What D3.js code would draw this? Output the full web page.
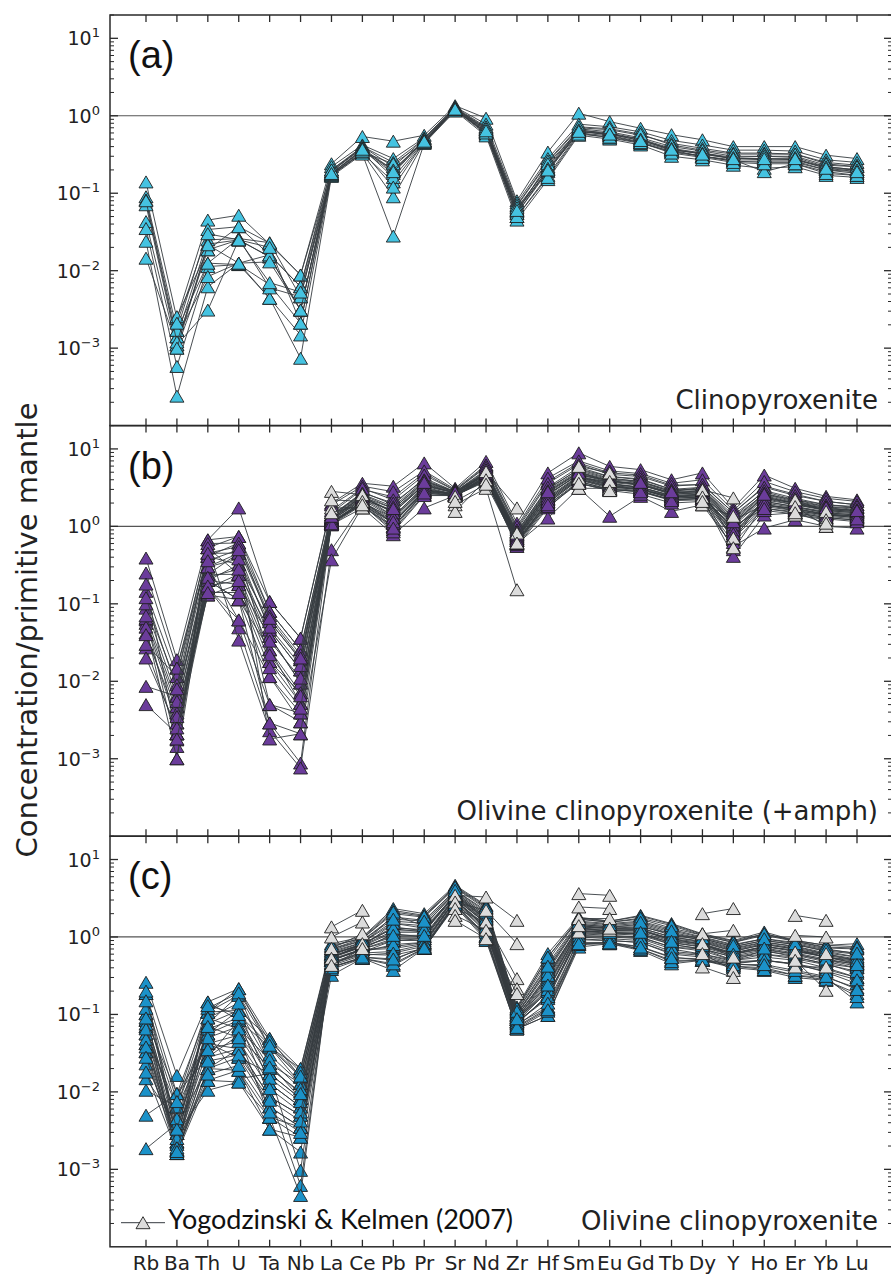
<!DOCTYPE html>
<html>
<head>
<meta charset="utf-8">
<script src="https://cdn.jsdelivr.net/npm/d3@7"></script>
<style>
  body { margin: 0; background: #fff; }
  svg { display: block; }
</style>
</head>
<body>
<div id="chart"></div>
<script>
// trace elements, normalised to primitive mantle
const elements = ["Rb", "Ba", "Th", "U", "Ta", "Nb", "La", "Ce", "Pb", "Pr", "Sr", "Nd",
    "Zr", "Hf", "Sm", "Eu", "Gd", "Tb", "Dy", "Y", "Ho", "Er", "Yb", "Lu"];

// (a) clinopyroxenite
const cpxSamples = [
    [0.14, 0.0024, 0.045, 0.052, 0.022, 0.0088, 0.24, 0.54, 0.47, 0.56, 1.35, 0.93, 0.08, 0.34, 1.08, 0.84, 0.69, 0.57, 0.49, 0.40, 0.40, 0.40, 0.31, 0.28],
    [0.09, 0.0017, 0.034, 0.037, 0.016, 0.0062, 0.22, 0.42, 0.28, 0.52, 1.3, 0.78, 0.075, 0.28, 0.78, 0.72, 0.62, 0.48, 0.42, 0.36, 0.36, 0.35, 0.27, 0.25],
    [0.082, 0.0014, 0.025, 0.026, 0.023, 0.0046, 0.19, 0.40, 0.22, 0.50, 1.25, 0.70, 0.068, 0.25, 0.70, 0.66, 0.56, 0.44, 0.38, 0.33, 0.33, 0.32, 0.25, 0.23],
    [0.071, 0.0011, 0.022, 0.025, 0.015, 0.0031, 0.18, 0.36, 0.18, 0.48, 1.22, 0.66, 0.062, 0.22, 0.68, 0.62, 0.52, 0.40, 0.35, 0.30, 0.30, 0.30, 0.23, 0.22],
    [0.043, 0.001, 0.0125, 0.012, 0.0066, 0.0021, 0.175, 0.33, 0.14, 0.46, 1.2, 0.60, 0.055, 0.19, 0.62, 0.58, 0.48, 0.37, 0.32, 0.28, 0.28, 0.27, 0.22, 0.20],
    [0.035, 0.00058, 0.0113, 0.012, 0.0044, 0.00148, 0.17, 0.33, 0.09, 0.45, 1.18, 0.58, 0.05, 0.17, 0.60, 0.55, 0.45, 0.34, 0.30, 0.26, 0.25, 0.25, 0.20, 0.19],
    [0.024, 0.00024, 0.0062, 0.0125, 0.0044, 0.00074, 0.165, 0.32, 0.028, 0.44, 1.15, 0.55, 0.045, 0.15, 0.56, 0.50, 0.42, 0.30, 0.27, 0.23, 0.21, 0.22, 0.17, 0.16],
    [0.0145, 0.0011, 0.0031, 0.025, 0.0152, 0.0031, 0.18, 0.36, 0.20, 0.47, 1.25, 0.66, 0.06, 0.2, 0.65, 0.6, 0.5, 0.36, 0.33, 0.28, 0.27, 0.27, 0.21, 0.2],
    [null, 0.00255, 0.0186, 0.037, 0.0227, 0.0088, 0.2, 0.40, 0.25, 0.5, 1.28, 0.72, 0.07, 0.26, 0.72, 0.68, 0.58, 0.42, 0.36, 0.32, 0.32, 0.32, 0.24, 0.22],
    [null, 0.0014, 0.0084, 0.0125, 0.016, 0.0062, 0.19, 0.38, 0.16, 0.47, 1.2, 0.62, 0.058, 0.24, 0.64, 0.56, 0.46, 0.36, 0.3, 0.27, 0.19, 0.24, 0.19, 0.17],
    [null, 0.0017, 0.0125, 0.026, 0.006, 0.0046, 0.17, 0.34, 0.24, 0.45, 1.2, 0.62, 0.055, 0.2, 0.6, 0.52, 0.44, 0.35, 0.3, 0.26, 0.26, 0.26, 0.2, 0.18],
    [0.08, 0.0012, 0.0186, 0.025, 0.02, 0.0021, 0.2, 0.38, 0.2, 0.48, 1.25, 0.68, 0.065, 0.21, 0.66, 0.58, 0.5, 0.38, 0.33, 0.29, 0.3, 0.29, 0.22, 0.2],
    [null, 0.001, 0.0216, 0.0125, 0.013, 0.0031, 0.175, 0.35, 0.12, 0.46, 1.2, 0.6, 0.05, 0.16, 0.58, 0.53, 0.45, 0.33, 0.29, 0.25, 0.24, 0.24, 0.18, 0.17],
    [null, 0.0021, 0.03, 0.025, 0.007, 0.0053, 0.18, 0.37, 0.19, 0.47, 1.22, 0.64, 0.06, 0.2, 0.63, 0.58, 0.48, 0.37, 0.32, 0.28, 0.28, 0.28, 0.21, 0.19]
];

// (b) olivine clinopyroxenite (+amph)
const olCpxAmphSamples = [
    [0.39, 0.019, 0.67, 1.73, 0.107, 0.036, 1.99, 3.6, 3.3, 6.6, 3.1, 6.9, 1.1, 4.9, 8.9, 5.95, 5.4, 4.0, 4.9, 1.73, 4.6, 3.1, 2.44, 2.2],
    [0.25, 0.0148, 0.53, 0.74, 0.08, 0.0255, 1.5, 3.0, 2.4, 4.9, 2.9, 6.0, 0.95, 3.8, 6.6, 4.9, 4.6, 3.4, 3.45, 1.5, 3.3, 2.6, 2.1, 1.9],
    [0.145, 0.0115, 0.41, 0.61, 0.059, 0.019, 1.3, 2.8, 1.9, 4.2, 2.8, 5.2, 0.82, 3.0, 5.5, 4.4, 4.0, 3.0, 3.0, 1.28, 2.6, 2.2, 1.8, 1.73],
    [0.088, 0.0064, 0.24, 0.45, 0.046, 0.014, 1.22, 2.5, 1.35, 3.3, 2.7, 4.6, 0.7, 2.6, 4.6, 3.9, 3.4, 2.7, 2.83, 0.67, 2.3, 2.0, 1.6, 1.5],
    [0.062, 0.0047, 0.2, 0.32, 0.038, 0.0095, 1.1, 2.1, 1.1, 2.8, 2.6, 4.2, 0.6, 2.2, 4.2, 3.4, 3.0, 2.4, 2.5, 0.5, 1.9, 1.7, 1.4, 1.35],
    [0.056, 0.0039, 0.16, 0.24, 0.0255, 0.0071, 1.15, 1.9, 0.9, 2.57, 2.5, 4.0, 0.55, 1.73, 3.8, 3.0, 2.83, 2.2, 2.3, 0.41, 1.4, 1.5, 1.3, 1.2],
    [0.042, 0.0029, 0.13, 0.177, 0.018, 0.0052, 1.05, 1.73, 0.78, 1.73, 2.5, 3.8, 0.6, 1.28, 3.1, 1.35, 2.44, 1.56, 1.9, 0.55, 0.95, 1.22, 1.0, 0.95],
    [0.027, 0.0021, 0.2, 0.113, 0.0115, 0.0039, 1.2, 2.2, 1.6, 3.6, 2.7, 4.8, 0.75, 2.8, 5.0, 3.8, 3.6, 2.7, 2.9, 1.1, 2.4, 2.0, 1.7, 1.6],
    [0.0086, 0.0064, 0.3, 0.062, 0.005, 0.003, 1.25, 2.4, 1.7, 3.8, 2.8, 5.0, 0.85, 3.1, 5.4, 4.2, 3.8, 2.8, 3.2, 1.4, 2.8, 2.2, 1.9, 1.75],
    [0.005, 0.0021, 0.16, 0.049, 0.0029, 0.00088, 1.1, 2.0, 1.3, 3.0, 2.6, 4.4, 0.7, 2.3, 4.4, 3.5, 3.2, 2.5, 2.6, 0.8, 2.1, 1.8, 1.5, 1.4],
    [0.18, 0.00175, 0.53, 0.034, 0.0023, 0.00076, 0.5, 1.9, 1.1, 2.9, 2.6, 4.2, 0.65, 2.0, 4.0, 3.2, 3.0, 2.4, 2.4, 1.2, 1.9, 1.6, 1.4, 1.3],
    [0.065, 0.00144, 0.45, 0.45, 0.0018, 0.0021, 0.37, 1.8, 1.0, 2.7, 2.5, 4.0, 0.62, 1.9, 3.6, 3.0, 2.8, 2.2, 2.3, 1.0, 1.7, 1.5, 1.3, 1.2],
    [0.05, 0.001, 0.67, 0.74, 0.107, 0.036, 1.9, 3.3, 2.8, 5.2, 3.0, 6.2, 1.0, 4.2, 7.0, 5.2, 4.8, 3.6, 4.0, 1.6, 3.8, 2.8, 2.3, 2.1],
    [0.03, 0.0115, 0.6, 0.61, 0.08, 0.0255, 1.6, 3.1, 2.2, 4.6, 2.9, 5.8, 0.9, 3.6, 6.3, 4.7, 4.4, 3.3, 3.5, 1.5, 3.2, 2.5, 2.1, 1.9],
    [null, 0.0148, 0.41, 0.32, 0.059, 0.019, 1.4, 2.7, 2.0, 4.0, 2.8, 5.4, 0.85, 3.2, 5.8, 4.4, 4.1, 3.0, 3.2, 1.3, 2.9, 2.3, 1.9, 1.8],
    [null, 0.0047, 0.24, 0.24, 0.046, 0.014, 1.3, 2.5, 1.5, 3.5, 2.7, 4.8, 0.78, 2.7, 4.9, 3.9, 3.5, 2.7, 2.8, 1.1, 2.5, 2.0, 1.7, 1.6],
    [null, 0.0029, 0.2, 0.177, 0.038, 0.0095, 1.2, 2.3, 1.35, 3.2, 2.6, 4.5, 0.72, 2.4, 4.5, 3.6, 3.2, 2.5, 2.6, 0.9, 2.2, 1.9, 1.6, 1.5],
    [null, 0.0039, 0.13, 0.113, 0.0255, 0.0052, 1.1, 2.0, 1.0, 2.8, 2.5, 4.2, 0.62, 2.0, 4.0, 3.1, 2.9, 2.2, 2.3, 0.75, 1.8, 1.6, 1.4, 1.3],
    [null, 0.0021, 0.16, 0.062, 0.0115, 0.003, 1.05, 1.9, 0.85, 2.5, 2.5, 3.9, 0.58, 1.8, 3.6, 2.9, 2.6, 2.0, 2.1, 0.62, 1.6, 1.45, 1.25, 1.15],
    [null, 0.001, 0.3, 0.45, 0.018, 0.0071, 1.15, 2.1, 1.2, 3.0, 2.6, 4.3, 0.68, 2.2, 4.3, 3.4, 3.1, 2.4, 2.5, 0.85, 2.0, 1.75, 1.5, 1.4],
    [null, 0.0064, 0.53, 0.24, 0.005, 0.0039, 1.25, 2.3, 1.6, 3.4, 2.7, 4.6, 0.75, 2.6, 4.7, 3.7, 3.4, 2.6, 2.7, 1.0, 2.3, 1.9, 1.65, 1.55],
    [null, 0.0021, 0.2, 0.113, 0.0029, 0.0021, 1.1, 2.0, 1.1, 2.9, 2.6, 4.1, 0.65, 2.1, 4.1, 3.3, 3.0, 2.3, 2.4, 0.95, 1.9, 1.7, 1.45, 1.35],
    [0.1, 0.009, 0.45, 0.55, 0.07, 0.022, 1.4, 2.6, 1.8, 3.9, 2.75, 5.0, 0.8, 2.9, 5.2, 4.1, 3.8, 2.9, 3.0, 1.2, 2.7, 2.1, 1.8, 1.65],
    [0.07, 0.0055, 0.3, 0.38, 0.05, 0.016, 1.3, 2.4, 1.5, 3.4, 2.7, 4.7, 0.74, 2.5, 4.8, 3.8, 3.5, 2.6, 2.75, 1.05, 2.4, 1.95, 1.65, 1.55],
    [0.04, 0.0035, 0.22, 0.28, 0.033, 0.011, 1.2, 2.2, 1.3, 3.1, 2.6, 4.4, 0.7, 2.3, 4.4, 3.5, 3.2, 2.45, 2.55, 0.9, 2.1, 1.8, 1.55, 1.45],
    [0.02, 0.0025, 0.17, 0.2, 0.022, 0.0065, 1.15, 2.05, 1.15, 2.9, 2.55, 4.2, 0.66, 2.1, 4.1, 3.25, 3.0, 2.3, 2.4, 0.8, 1.9, 1.65, 1.45, 1.35],
    [null, 0.0018, 0.14, 0.14, 0.015, 0.0045, 1.08, 1.95, 0.95, 2.7, 2.5, 4.0, 0.6, 1.9, 3.8, 3.0, 2.8, 2.15, 2.2, 0.7, 1.7, 1.55, 1.35, 1.25],
    [0.12, 0.008, 0.36, 0.5, 0.065, 0.02, 1.35, 2.55, 1.7, 3.7, 2.75, 4.9, 0.78, 2.8, 5.0, 4.0, 3.7, 2.8, 2.9, 1.15, 2.6, 2.05, 1.75, 1.6]
];
const ykSamplesB = [
    [null, null, null, null, null, null, 2.83, 2.57, null, null, 2.44, 5.1, 1.73, null, 5.95, 4.9, null, null, 2.97, 2.33, null, 2.2, 1.56, null],
    [null, null, null, null, null, null, 1.73, 1.73, null, null, 1.9, 3.1, 0.152, null, 3.1, 3.1, null, null, 1.9, 1.35, null, 1.4, 1.22, null],
    [null, null, null, null, null, null, 2.2, 2.1, null, null, 1.56, 4.0, 0.82, null, 4.2, 3.8, null, null, 2.4, 0.71, null, 1.8, 1.0, null],
    [null, null, null, null, null, null, 1.5, 1.9, null, null, 2.1, 3.5, 0.61, null, 3.6, 2.9, null, null, 2.1, 0.53, null, 1.5, 1.1, null]
];

// (c) olivine clinopyroxenite
const olCpxSamples = [
    [0.26, 0.0163, 0.145, 0.215, 0.049, 0.02, 0.82, 1.0, 2.33, 2.0, 4.65, 2.57, 0.125, 0.61, 1.8, 1.6, 1.9, 1.49, 1.1, 0.9, 1.16, 0.9, 0.78, 0.82],
    [0.186, 0.0095, 0.107, 0.177, 0.038, 0.0155, 0.67, 0.9, 1.81, 1.64, 4.0, 2.2, 0.11, 0.45, 1.6, 1.49, 1.6, 1.25, 1.0, 0.8, 0.95, 0.85, 0.7, 0.61],
    [0.102, 0.0064, 0.076, 0.113, 0.023, 0.0128, 0.6, 0.82, 1.28, 1.16, 3.6, 1.81, 0.097, 0.30, 1.4, 1.3, 1.35, 1.1, 0.9, 0.7, 0.85, 0.75, 0.6, 0.5],
    [0.084, 0.0039, 0.056, 0.084, 0.0172, 0.0082, 0.55, 0.75, 1.0, 1.0, 3.3, 1.6, 0.085, 0.226, 1.25, 1.2, 1.2, 0.95, 0.8, 0.6, 0.75, 0.68, 0.55, 0.45],
    [0.069, 0.0029, 0.042, 0.054, 0.0128, 0.0064, 0.5, 0.68, 0.71, 0.82, 3.0, 1.4, 0.08, 0.168, 1.1, 1.05, 1.0, 0.74, 0.7, 0.5, 0.67, 0.55, 0.45, 0.34],
    [0.056, 0.00225, 0.028, 0.036, 0.0086, 0.005, 0.45, 0.6, 0.58, 0.71, 2.8, 1.2, 0.075, 0.125, 0.95, 0.9, 0.85, 0.6, 0.55, 0.45, 0.5, 0.45, 0.35, 0.25],
    [0.042, 0.00175, 0.02, 0.028, 0.0064, 0.0035, 0.41, 0.53, 0.43, 0.71, 2.6, 1.0, 0.065, 0.097, 0.74, 0.82, 0.67, 0.45, 0.5, 0.4, 0.37, 0.3, 0.275, 0.186],
    [0.033, 0.0016, 0.0141, 0.019, 0.0047, 0.0026, 0.32, 0.53, 0.37, 0.71, 2.5, 0.9, 0.065, 0.097, 0.8, 0.85, 0.7, 0.5, 0.5, 0.42, 0.4, 0.32, 0.3, 0.145],
    [0.023, 0.0029, 0.0105, 0.0134, 0.0033, 0.00167, 0.45, 0.64, 0.9, 0.9, 3.0, 1.3, 0.08, 0.2, 1.1, 1.1, 1.05, 0.8, 0.7, 0.55, 0.6, 0.55, 0.45, 0.4],
    [0.0148, 0.0039, 0.056, 0.0148, 0.0172, 0.00097, 0.5, 0.7, 1.1, 1.0, 3.2, 1.5, 0.085, 0.25, 1.2, 1.15, 1.1, 0.85, 0.75, 0.6, 0.7, 0.6, 0.5, 0.45],
    [0.0105, 0.0064, 0.042, 0.036, 0.0086, 0.00062, 0.55, 0.75, 1.5, 1.3, 3.5, 1.7, 0.09, 0.3, 1.3, 1.25, 1.25, 0.95, 0.85, 0.65, 0.8, 0.7, 0.55, 0.5],
    [0.005, 0.0095, 0.028, 0.054, 0.0047, 0.00046, 0.6, 0.8, 1.9, 1.4, 3.8, 1.9, 0.1, 0.4, 1.45, 1.35, 1.45, 1.1, 0.95, 0.75, 0.9, 0.8, 0.65, 0.55],
    [0.00185, 0.0039, 0.02, 0.019, 0.0033, 0.0026, 0.5, 0.68, 0.75, 0.85, 3.0, 1.3, 0.075, 0.18, 1.0, 1.0, 0.95, 0.7, 0.6, 0.5, 0.55, 0.5, 0.4, 0.3],
    [0.186, 0.00225, 0.107, 0.113, 0.049, 0.0155, 0.7, 0.95, 2.0, 1.8, 4.3, 2.3, 0.115, 0.5, 1.7, 1.55, 1.7, 1.3, 1.05, 0.85, 1.05, 0.88, 0.72, 0.7],
    [0.102, 0.0016, 0.145, 0.084, 0.038, 0.0128, 0.65, 0.85, 1.6, 1.5, 3.9, 2.0, 0.105, 0.38, 1.5, 1.4, 1.5, 1.15, 0.95, 0.75, 0.9, 0.8, 0.66, 0.6],
    [0.069, 0.00175, 0.076, 0.177, 0.023, 0.0082, 0.55, 0.78, 1.2, 1.2, 3.4, 1.7, 0.09, 0.28, 1.3, 1.2, 1.25, 0.9, 0.8, 0.62, 0.75, 0.65, 0.55, 0.48],
    [0.042, 0.0029, 0.056, 0.113, 0.0128, 0.0064, 0.5, 0.7, 0.9, 0.95, 3.1, 1.5, 0.085, 0.2, 1.15, 1.1, 1.1, 0.8, 0.7, 0.55, 0.65, 0.58, 0.48, 0.4],
    [null, 0.0016, 0.028, 0.084, 0.0086, 0.005, 0.45, 0.62, 0.65, 0.8, 2.9, 1.25, 0.08, 0.16, 1.0, 0.95, 0.9, 0.65, 0.6, 0.48, 0.5, 0.45, 0.38, 0.3],
    [null, 0.0016, 0.02, 0.036, 0.0064, 0.0035, 0.41, 0.55, 0.5, 0.75, 2.7, 1.05, 0.07, 0.12, 0.85, 0.85, 0.75, 0.55, 0.5, 0.45, 0.42, 0.35, 0.3, 0.22],
    [0.033, 0.00225, 0.0141, 0.0134, 0.0047, 0.0035, 0.38, 0.53, 0.45, 0.72, 2.6, 0.95, 0.065, 0.11, 0.8, 0.82, 0.7, 0.48, 0.5, 0.42, 0.38, 0.32, 0.28, 0.17],
    [0.056, 0.0064, 0.107, 0.215, 0.038, 0.02, 0.75, 0.98, 2.2, 1.9, 4.5, 2.5, 0.12, 0.55, 1.75, 1.6, 1.85, 1.45, 1.08, 0.88, 1.1, 0.9, 0.78, 0.75],
    [0.084, 0.0095, 0.042, 0.028, 0.0172, 0.0082, 0.6, 0.8, 1.35, 1.2, 3.6, 1.8, 0.095, 0.33, 1.35, 1.3, 1.3, 1.0, 0.88, 0.68, 0.82, 0.72, 0.6, 0.52],
    [0.2, 0.0029, 0.12, 0.19, 0.045, 0.018, 0.78, 0.95, 2.1, 1.85, 4.4, 2.4, 0.12, 0.55, 1.7, 1.55, 1.75, 1.4, 1.05, 0.85, 1.1, 0.88, 0.74, 0.72],
    [0.12, 0.0039, 0.09, 0.14, 0.03, 0.0128, 0.62, 0.85, 1.5, 1.4, 3.7, 1.9, 0.1, 0.36, 1.45, 1.35, 1.4, 1.05, 0.92, 0.72, 0.86, 0.76, 0.62, 0.55],
    [0.075, 0.0021, 0.065, 0.09, 0.02, 0.01, 0.56, 0.76, 1.15, 1.15, 3.4, 1.65, 0.09, 0.26, 1.28, 1.2, 1.2, 0.92, 0.82, 0.62, 0.76, 0.66, 0.55, 0.46],
    [0.048, 0.0018, 0.05, 0.07, 0.015, 0.0075, 0.52, 0.7, 0.95, 0.95, 3.2, 1.5, 0.085, 0.21, 1.18, 1.12, 1.1, 0.84, 0.74, 0.57, 0.68, 0.6, 0.5, 0.42],
    [0.038, 0.0025, 0.035, 0.045, 0.011, 0.0055, 0.47, 0.64, 0.8, 0.85, 3.0, 1.35, 0.078, 0.17, 1.05, 1.02, 0.98, 0.74, 0.66, 0.5, 0.6, 0.52, 0.44, 0.36],
    [0.028, 0.0019, 0.025, 0.03, 0.0078, 0.0042, 0.43, 0.58, 0.62, 0.76, 2.8, 1.15, 0.072, 0.14, 0.92, 0.9, 0.85, 0.62, 0.58, 0.46, 0.5, 0.44, 0.36, 0.28],
    [0.018, 0.0017, 0.017, 0.022, 0.0055, 0.003, 0.4, 0.55, 0.52, 0.72, 2.65, 1.02, 0.068, 0.115, 0.82, 0.84, 0.74, 0.54, 0.52, 0.44, 0.44, 0.37, 0.31, 0.21],
    [0.065, 0.0045, 0.09, 0.065, 0.026, 0.011, 0.58, 0.8, 1.3, 1.25, 3.5, 1.75, 0.095, 0.32, 1.35, 1.28, 1.3, 1.0, 0.86, 0.66, 0.8, 0.7, 0.58, 0.5],
    [0.15, 0.0075, 0.13, 0.1, 0.04, 0.016, 0.7, 0.9, 1.7, 1.6, 4.0, 2.1, 0.11, 0.42, 1.55, 1.45, 1.55, 1.2, 0.98, 0.78, 0.95, 0.82, 0.68, 0.62],
    [0.09, 0.0033, 0.07, 0.05, 0.021, 0.0095, 0.54, 0.74, 1.05, 1.05, 3.3, 1.55, 0.088, 0.24, 1.22, 1.15, 1.15, 0.88, 0.78, 0.6, 0.72, 0.62, 0.52, 0.44]
];
const ykSamplesC = [
    [null, null, null, null, null, null, 1.35, 2.21, null, null, 3.45, 3.28, 1.64, null, 3.63, 3.45, null, null, 2.0, 2.33, null, 1.9, 1.64, null],
    [null, null, null, null, null, null, 1.0, 1.56, null, null, 2.83, 2.21, 0.82, null, 2.44, 2.33, null, null, 1.1, 1.22, null, 1.05, 1.0, null],
    [null, null, null, null, null, null, 0.71, 1.1, null, null, 2.33, 1.56, 0.29, null, 1.73, 1.73, null, null, 0.82, 0.55, null, 0.64, 0.61, null],
    [null, null, null, null, null, null, 0.53, 0.82, null, null, 1.9, 1.22, 0.215, null, 1.16, 1.22, null, null, 0.61, 0.37, null, 0.41, 0.41, null],
    [null, null, null, null, null, null, 0.43, 0.71, null, null, 1.64, 0.95, 0.186, null, 1.4, 1.3, null, null, 0.41, 0.30, null, 0.5, 0.205, null]
];

const yMajorTicks = [1e-3, 1e-2, 1e-1, 1, 10];
const yTickExp = ["\u22123", "\u22122", "\u22121", "0", "1"];
const panelLabels = ["(a)", "(b)", "(c)"];
const rockNames = ["Clinopyroxenite", "Olivine clinopyroxenite (+amph)", "Olivine clinopyroxenite"];
const legendLabel = "Yogodzinski & Kelmen (2007)";

let width = 891, height = 1276;
let plotLeft = 110, plotRight = 892, plotTop = 15, panelH = 410.6;

let svg = d3.select("#chart")
    .append("svg")
    .attr("width", width)
    .attr("height", height);

let x = d3.scalePoint()
    .domain(elements)
    .range([146, 857]);

// matplotlib-style "^" marker, centred on the point
let tri = "M0,-6L7,6L-7,6Z";

let panels = [
    { samples: cpxSamples, refs: [], fill: "#45c3e1" },
    { samples: olCpxAmphSamples, refs: ykSamplesB, fill: "#6b3c9b" },
    { samples: olCpxSamples, refs: ykSamplesC, fill: "#1b92c9" }
];

// minor ticks 2..9 of every decade
let minorTicks = [];
for (let e = -4; e <= 1; e++) {
    for (let m = 2; m <= 9; m++) {
        let v = m * Math.pow(10, e);
        if (v <= 20) minorTicks.push(v);
    }
}

panels.forEach(function (p, i) {
    let top = plotTop + i * panelH;
    let y = d3.scaleLog()
        .domain([1e-4, 20])
        .range([top + panelH, top]);

    let g = svg.append("g").attr("class", "panel");

    // reference line at 1
    g.append("line")
        .attr("x1", plotLeft).attr("x2", plotRight)
        .attr("y1", y(1)).attr("y2", y(1))
        .attr("stroke", "#555").attr("stroke-width", 1.2);

    let line = d3.line()
        .defined(function (d) { return d != null; })
        .x(function (d, j) { return x(elements[j]); })
        .y(function (d) { return y(d); });

    function drawSample(vals, fill) {
        let s = g.append("g");
        s.append("path")
            .attr("d", line(vals))
            .attr("fill", "none")
            .attr("stroke", "#363b40")
            .attr("stroke-width", 0.9);
        vals.forEach(function (v, j) {
            if (v == null) return;
            s.append("path")
                .attr("d", tri)
                .attr("transform", "translate(" + x(elements[j]) + "," + y(v) + ")")
                .attr("fill", fill)
                .attr("stroke", "#1e1e1e")
                .attr("stroke-width", 0.9);
        });
    }

    p.samples.forEach(function (s) { drawSample(s, p.fill); });
    p.refs.forEach(function (s) { drawSample(s, "#dcdcdc"); });

    // frame
    g.append("rect")
        .attr("x", plotLeft).attr("y", top)
        .attr("width", plotRight - plotLeft).attr("height", panelH)
        .attr("fill", "none").attr("stroke", "#2a2a2a").attr("stroke-width", 1.5);

    // x ticks, inward, top and bottom
    elements.forEach(function (el) {
        g.append("line")
            .attr("x1", x(el)).attr("x2", x(el))
            .attr("y1", top).attr("y2", top + 7)
            .attr("stroke", "#2a2a2a").attr("stroke-width", 1.3);
        g.append("line")
            .attr("x1", x(el)).attr("x2", x(el))
            .attr("y1", top + panelH).attr("y2", top + panelH - 7)
            .attr("stroke", "#2a2a2a").attr("stroke-width", 1.3);
    });

    // y ticks, inward, left and right
    yMajorTicks.forEach(function (v, k) {
        [[plotLeft, 8], [plotRight, -8]].forEach(function (t) {
            g.append("line")
                .attr("x1", t[0]).attr("x2", t[0] + t[1])
                .attr("y1", y(v)).attr("y2", y(v))
                .attr("stroke", "#2a2a2a").attr("stroke-width", 1.3);
        });
        let lab = g.append("text")
            .attr("x", 100)
            .attr("y", y(v) + 7)
            .attr("text-anchor", "end")
            .style("font-family", "DejaVu Sans")
            .style("font-size", "19px")
            .style("fill", "#222");
        lab.append("tspan").text("10");
        lab.append("tspan")
            .attr("dy", -8)
            .style("font-size", "13px")
            .text(yTickExp[k]);
    });
    minorTicks.forEach(function (v) {
        [[plotLeft, 4], [plotRight, -4]].forEach(function (t) {
            g.append("line")
                .attr("x1", t[0]).attr("x2", t[0] + t[1])
                .attr("y1", y(v)).attr("y2", y(v))
                .attr("stroke", "#2a2a2a").attr("stroke-width", 1);
        });
    });

    // panel letter
    g.append("text")
        .attr("x", 128)
        .attr("y", top + 53)
        .style("font-family", "Liberation Sans")
        .style("font-size", "38px")
        .style("fill", "#111")
        .text(panelLabels[i]);

    // rock type
    g.append("text")
        .attr("x", 878)
        .attr("y", top + 394)
        .attr("text-anchor", "end")
        .style("font-family", "DejaVu Sans")
        .style("font-size", "26px")
        .style("fill", "#222")
        .text(rockNames[i]);

    if (i == 2) {
        // legend for the reference data
        let ly = top + 386.5;
        g.append("line")
            .attr("x1", 121).attr("x2", 165)
            .attr("y1", ly).attr("y2", ly)
            .attr("stroke", "#363b40").attr("stroke-width", 1);
        g.append("path")
            .attr("d", tri)
            .attr("transform", "translate(143," + ly + ")")
            .attr("fill", "#dcdcdc")
            .attr("stroke", "#1e1e1e")
            .attr("stroke-width", 0.9);
        g.append("text")
            .attr("x", 168)
            .attr("y", top + 393)
            .style("font-family", "Lato")
            .style("font-size", "27px")
            .style("fill", "#111")
            .text(legendLabel);

        // element labels
        elements.forEach(function (el) {
            g.append("text")
                .attr("x", x(el))
                .attr("y", top + panelH + 23)
                .attr("text-anchor", "middle")
                .style("font-family", "DejaVu Sans")
                .style("font-size", "20px")
                .style("fill", "#222")
                .text(el);
        });
    }
});

// y axis title
svg.append("text")
    .attr("transform", "translate(37,630) rotate(-90)")
    .attr("text-anchor", "middle")
    .style("font-family", "DejaVu Sans")
    .style("font-size", "29px")
    .style("fill", "#222")
    .text("Concentration/primitive mantle");
</script>
</body>
</html>
